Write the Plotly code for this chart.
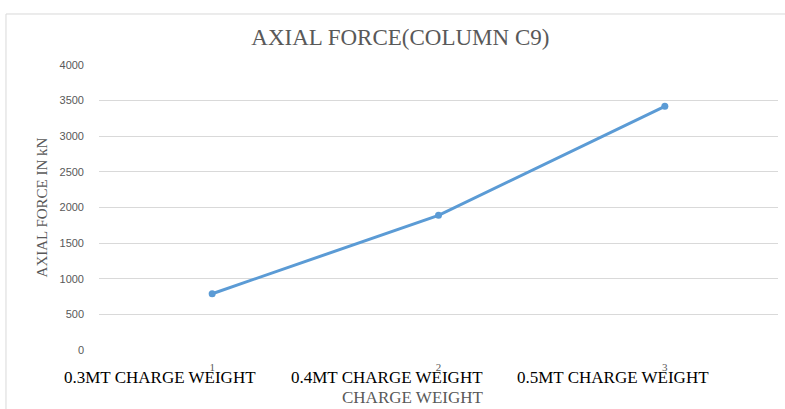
import plotly.graph_objects as go

ticks = [1, 2, 3]
categories = ["0.3MT CHARGE WEIGHT", "0.4MT CHARGE WEIGHT", "0.5MT CHARGE WEIGHT"]
axial_force = [790, 1890, 3420]
y_ticks = [0, 500, 1000, 1500, 2000, 2500, 3000, 3500, 4000]

SERIF = "Liberation Serif"
GRID = "#d9d9d9"

fig = go.Figure()
fig.add_trace(go.Scatter(
    x=ticks, y=axial_force, mode="lines+markers",
    line=dict(color="#5b9bd5", width=3),
    marker=dict(color="#5b9bd5", size=7),
    showlegend=False,
))

for t, c in zip(ticks, categories):
    fig.add_annotation(x=t, y=-0.095, xref="x", yref="paper", text=c,
                       showarrow=False, xshift=-52, yanchor="middle",
                       font=dict(family=SERIF, size=17, color="#000000"))

fig.add_annotation(x=0.461, y=-0.168, xref="paper", yref="paper", text="CHARGE WEIGHT",
                   showarrow=False, yanchor="middle",
                   font=dict(family=SERIF, size=17, color="#595959"))

# chart-area frame (top and left edges visible)
fig.add_shape(type="line", xref="paper", yref="paper", x0=-0.137, x1=1.02, y0=1.179, y1=1.179,
              line=dict(color=GRID, width=1))
fig.add_shape(type="line", xref="paper", yref="paper", x0=-0.137, x1=-0.137, y0=-0.22, y1=1.179,
              line=dict(color=GRID, width=1))

fig.update_layout(
    width=785, height=409,
    margin=dict(l=99, r=7, t=65, b=59),
    paper_bgcolor="white", plot_bgcolor="white",
    title=dict(text="AXIAL FORCE(COLUMN C9)", x=0.51, xanchor="center", y=0.91, yanchor="middle",
               font=dict(family=SERIF, size=23, color="#595959")),
    xaxis=dict(range=[0.5, 3.5], tickvals=ticks, ticktext=[str(t) for t in ticks],
               showgrid=False, zeroline=False, showline=False, ticklabelstandoff=9,
               tickfont=dict(family=SERIF, size=11, color="#595959"), ticks=""),
    yaxis=dict(range=[0, 4000], tickvals=y_ticks, showgrid=True, gridcolor=GRID, gridwidth=1,
               zeroline=False, showline=False, ticks="", ticklabelstandoff=14,
               tickfont=dict(family="Liberation Sans", size=11, color="#595959"),
               title=dict(text="AXIAL FORCE IN kN", standoff=8,
                          font=dict(family=SERIF, size=15, color="#595959"))),
)

fig.write_html("out.html")
